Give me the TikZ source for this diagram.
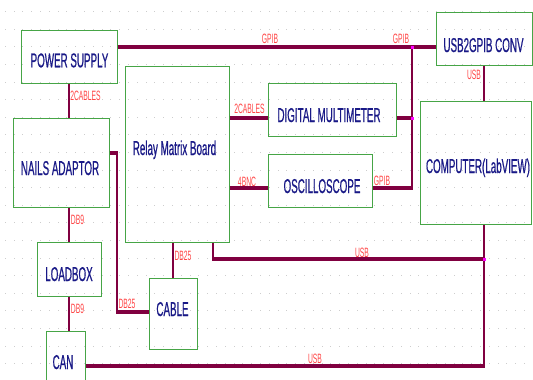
\documentclass[tikz,border=0pt]{standalone}
\usepackage{fontspec}
\newfontfamily\boxfont{Liberation Sans}[FakeStretch=0.49,FakeBold=0.6]
\newfontfamily\labfont{Liberation Sans}[FakeStretch=0.5]
\definecolor{wirec}{RGB}{128,0,64}
\definecolor{boxc}{RGB}{70,165,70}
\definecolor{txtc}{RGB}{25,25,135}
\definecolor{labc}{RGB}{255,70,70}
\definecolor{dotc}{RGB}{205,205,205}
\definecolor{junc}{RGB}{255,0,255}
\begin{document}
\begin{tikzpicture}[x=1pt,y=-1pt,
  box/.style={draw=boxc, line width=1pt, inner sep=0pt, rectangle},
  txt/.style={inner sep=0pt, anchor=base, text=txtc, font=\boxfont\fontsize{20}{22}\selectfont},
  lab/.style={inner sep=0pt, anchor=base, text=labc, font=\labfont\fontsize{13.5}{15}\selectfont},
  hw/.style={draw=wirec, line width=4pt},
  vw/.style={draw=wirec, line width=2pt},
  jn/.style={fill=junc}]
\useasboundingbox (0,0) rectangle (533,380);
\fill[white] (0,0) rectangle (533,380);
\clip (0,0) rectangle (533,380);
% grid dots
\foreach \i in {0,...,60}{
  \foreach \j in {0,...,21}{
    \fill[dotc] ({5.3+8.8*\i-0.5},{12.7+17.6*\j-0.5}) rectangle +(1,-1);
  }
}
% boxes
\node[box, minimum width=96pt, minimum height=53pt] (ps) at (69,56.5) {};
\node[box, minimum width=96pt, minimum height=89pt] (nails) at (61,162.5) {};
\node[box, minimum width=104pt, minimum height=176pt] (relay) at (177,154) {};
\node[box, minimum width=128pt, minimum height=53pt] (dmm) at (332,109.5) {};
\node[box, minimum width=104pt, minimum height=53pt] (osc) at (320,180.5) {};
\node[box, minimum width=96pt, minimum height=53pt] (usb) at (484,38.5) {};
\node[box, minimum width=111pt, minimum height=123pt] (comp) at (475.5,162.5) {};
\node[box, minimum width=64pt, minimum height=54pt] (load) at (69,269) {};
\node[box, minimum width=39pt, minimum height=64pt] (can) at (65.5,363) {};
\node[box, minimum width=48pt, minimum height=71pt] (cable) at (173,313.5) {};
% box texts
\node[txt] (pst) at (69.5,67.3) {POWER SUPPLY};
\node[txt] (nailst) at (60,175) {NAILS ADAPTOR};
\node[txt] (relayt) at (174.5,155) {Relay Matrix Board};
\node[txt] (dmmt) at (329,122) {DIGITAL MULTIMETER};
\node[txt] (osct) at (322,193) {OSCILLOSCOPE};
\node[txt] (usbt) at (483.5,52) {USB2GPIB CONV};
\node[txt] (compt) at (478,173) {COMPUTER(LabVIEW)};
\node[txt] (loadt) at (69,281) {LOADBOX};
\node[txt] (cablet) at (172.5,316) {CABLE};
\node[txt] (cant) at (63,369) {CAN};
% junction coordinates
\coordinate (j1) at (412,47);
\coordinate (j2) at (412,118);
\coordinate (j3) at (412,188);
\coordinate (k1) at (117,153);
\coordinate (k2) at (117,312);
\coordinate (m1) at (213,259);
\coordinate (j4) at (484,259);
\coordinate (m2) at (484,366);
% wires
\draw[vw] (j1) -- ([yshift=-1pt]j3);
\draw[hw] (ps.east |- j1) -- (usb.west |- j1);
\draw[hw] (dmm.east |- j2) -- (j2);
\draw[hw] (osc.east |- j3) -- ([xshift=1pt]j3);
\draw[hw] (relay.east |- j2) -- (dmm.west |- j2);
\draw[hw] (relay.east |- j3) -- (osc.west |- j3);
\draw[vw] (ps.south) -- (ps.south |- nails.north);
\draw[vw] ([yshift=1pt]k1) -- ([yshift=-2pt]k2);
\draw[hw] (nails.east |- k1) -- ([xshift=1pt]k1);
\draw[hw] ([xshift=-1pt]k2) -- (cable.west |- k2);
\draw[vw] (load.north |- nails.south) -- (load.north);
\draw[vw] (load.south) -- (load.south |- can.north);
\draw[vw] (cable.north |- relay.south) -- (cable.north);
\draw[vw] (m1 |- relay.south) -- ([yshift=-2pt]m1);
\draw[hw] ([xshift=-1pt]m1) -- (j4);
\draw[vw] (usb.south |- comp.south) -- ([yshift=-2pt]m2);
\draw[hw] (can.east |- m2) -- ([xshift=1pt]m2);
\draw[vw] (usb.south) -- (usb.south |- comp.north);
% junction dots
\foreach \p in {j1,j2,j4}{ \fill[jn] ([xshift=-1.5pt,yshift=-1.5pt]\p) rectangle ([xshift=1.5pt,yshift=1.5pt]\p); }
% labels
\node[lab] (l1) at (270,43) {GPIB};
\node[lab] (l2) at (401,43) {GPIB};
\node[lab] (l3) at (85.5,100) {2CABLES};
\node[lab] (l4) at (249.5,113) {2CABLES};
\node[lab] (l5) at (247,186) {4BNC};
\node[lab] (l6) at (382,185) {GPIB};
\node[lab] (l7) at (474,79) {USB};
\node[lab] (l8) at (77.5,224) {DB9};
\node[lab] (l9) at (77.5,313) {DB9};
\node[lab] (l10) at (183,260) {DB25};
\node[lab] (l11) at (127,308) {DB25};
\node[lab] (l12) at (362,257) {USB};
\node[lab] (l13) at (315,363) {USB};
\end{tikzpicture}
\end{document}
